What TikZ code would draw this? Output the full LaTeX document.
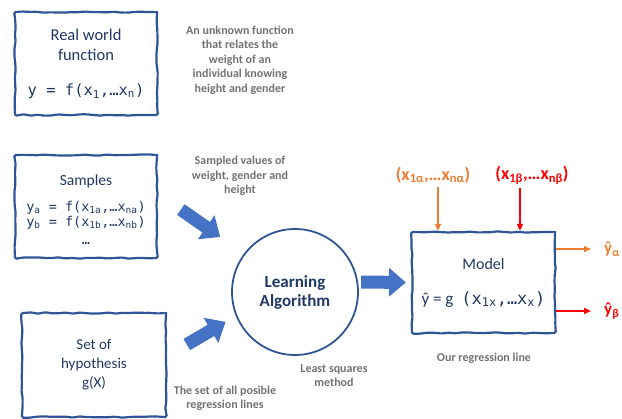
\documentclass[tikz,border=0pt]{standalone}
\usepackage{fontspec}
\setmainfont{Carlito}
\newfontfamily\codefont{DejaVu Sans Mono}
\usetikzlibrary{arrows.meta,decorations.pathmorphing}

\definecolor{boxblue}{HTML}{2F5597}
\definecolor{arrowblue}{HTML}{4472C4}
\definecolor{textnavy}{HTML}{203864}
\definecolor{notegray}{HTML}{767171}
\definecolor{inorange}{HTML}{ED7D31}
\definecolor{inred}{HTML}{FF0000}

\newcommand\codetext[2]{{\codefont\fontsize{#1}{15}\selectfont #2}}

\tikzset{
  sketchbox/.style={draw=boxblue, line width=2.2pt, decorate,
    decoration={random steps, segment length=7pt, amplitude=0.7pt},
    rounded corners=1.5pt, minimum width=142pt, minimum height=103pt,
    inner sep=0pt, align=center, text=textnavy},
  learnbox/.style={circle, draw=boxblue, line width=1.8pt, minimum size=126pt,
    align=center, text=textnavy, font=\bfseries\fontsize{17}{19}\selectfont},
  note/.style={text=notegray, align=center, font=\bfseries\fontsize{12}{14.5}\selectfont},
  inlabel/.style={font=\bfseries\fontsize{18}{18}\selectfont},
  outlabel/.style={font=\bfseries\fontsize{17}{18}\selectfont, anchor=west, inner sep=1pt},
  bigarrow/.style={arrowblue, line width=13pt, -{Triangle[length=17pt, width=28pt]}},
  thinarrow/.style={line width=1.5pt, -{Triangle[length=7pt, width=6pt]}}
}

\begin{document}
\pgfmathsetseed{7}
\begin{tikzpicture}[x=1pt,y=-1pt]
  \useasboundingbox (0,0) rectangle (622,419);

  \node[sketchbox, font=\fontsize{16.5}{20}\selectfont] (real) at (86,63.5)
    {Real world\\function\\[15pt]\codetext{15.5}{y = f(x\textsubscript{1},…x\textsubscript{n})}};
  \node[sketchbox, font=\fontsize{15.5}{15}\selectfont] (samples) at (86,206.5)
    {\rule{0pt}{17pt}Samples\\[11pt]\codetext{13.5}{y\textsubscript{a} = f(x\textsubscript{1a},…x\textsubscript{na})}\\\codetext{13.5}{y\textsubscript{b} = f(x\textsubscript{1b},…x\textsubscript{nb})}\\[3pt]\codetext{13.5}{…}};
  \node[sketchbox, minimum width=144pt, minimum height=104pt, font=\fontsize{15}{19}\selectfont] (hyp) at (94,365)
    {Set of\\hypothesis\\g(X)};
  \node[learnbox] (learn) at (295,292) {Learning\\Algorithm};
  \node[sketchbox, minimum width=143pt, minimum height=101pt, font=\fontsize{16}{19}\selectfont] (model) at (483.5,282.5)
    {Model\\[16pt]{\fontsize{17}{19}\selectfont\^{y} = g}\enspace\codetext{17}{(x\textsubscript{1x},…x\textsubscript{x})}};

  \node[note] (realnote) at (240,60) {An unknown function\\that relates the\\weight of an\\individual knowing\\height and gender};
  \node[note] (samplenote) at (240,176) {Sampled values of\\weight, gender and\\height};
  \node[note] (hypnote) at (225,398.5) {The set of all posible\\regression lines};
  \node[note] (learnnote) at (334,375.5) {Least squares\\method};
  \node[note] (modelnote) at (484,358) {Our regression line};

  \node[inlabel, text=inorange] (xa) at (433,175) {(x\textsubscript{1α},…x\textsubscript{nα})};
  \node[inlabel, text=inred] (xb) at (532,175) {(x\textsubscript{1β},…x\textsubscript{nβ})};
  \node[outlabel, text=inorange] (ya) at (603,249) {\^{y}\textsubscript{α}};
  \node[outlabel, text=inred] (yb) at (603,311) {\^{y}\textsubscript{β}};

  \draw[bigarrow, shorten <=27.7pt, shorten >=29pt] (samples.10) -- (learn.143);
  \draw[bigarrow, shorten <=22.8pt, shorten >=11.7pt] (hyp.7) -- (learn.202);
  \draw[bigarrow, shorten <=3pt, shorten >=5pt] (learn.9) -- (model.west);

  \draw[thinarrow, inorange] ([xshift=5pt]xa.south) -- ([xshift=5pt]xa.south |- model.north);
  \draw[thinarrow, inred] ([xshift=-12pt]xb.south) -- ([xshift=-12pt]xb.south |- model.north);
  \draw[thinarrow, inorange, shorten >=12pt] (model.east |- ya.west) -- (ya.west);
  \draw[thinarrow, inred, shorten >=12pt] (model.east |- yb.west) -- (yb.west);
\end{tikzpicture}
\end{document}
